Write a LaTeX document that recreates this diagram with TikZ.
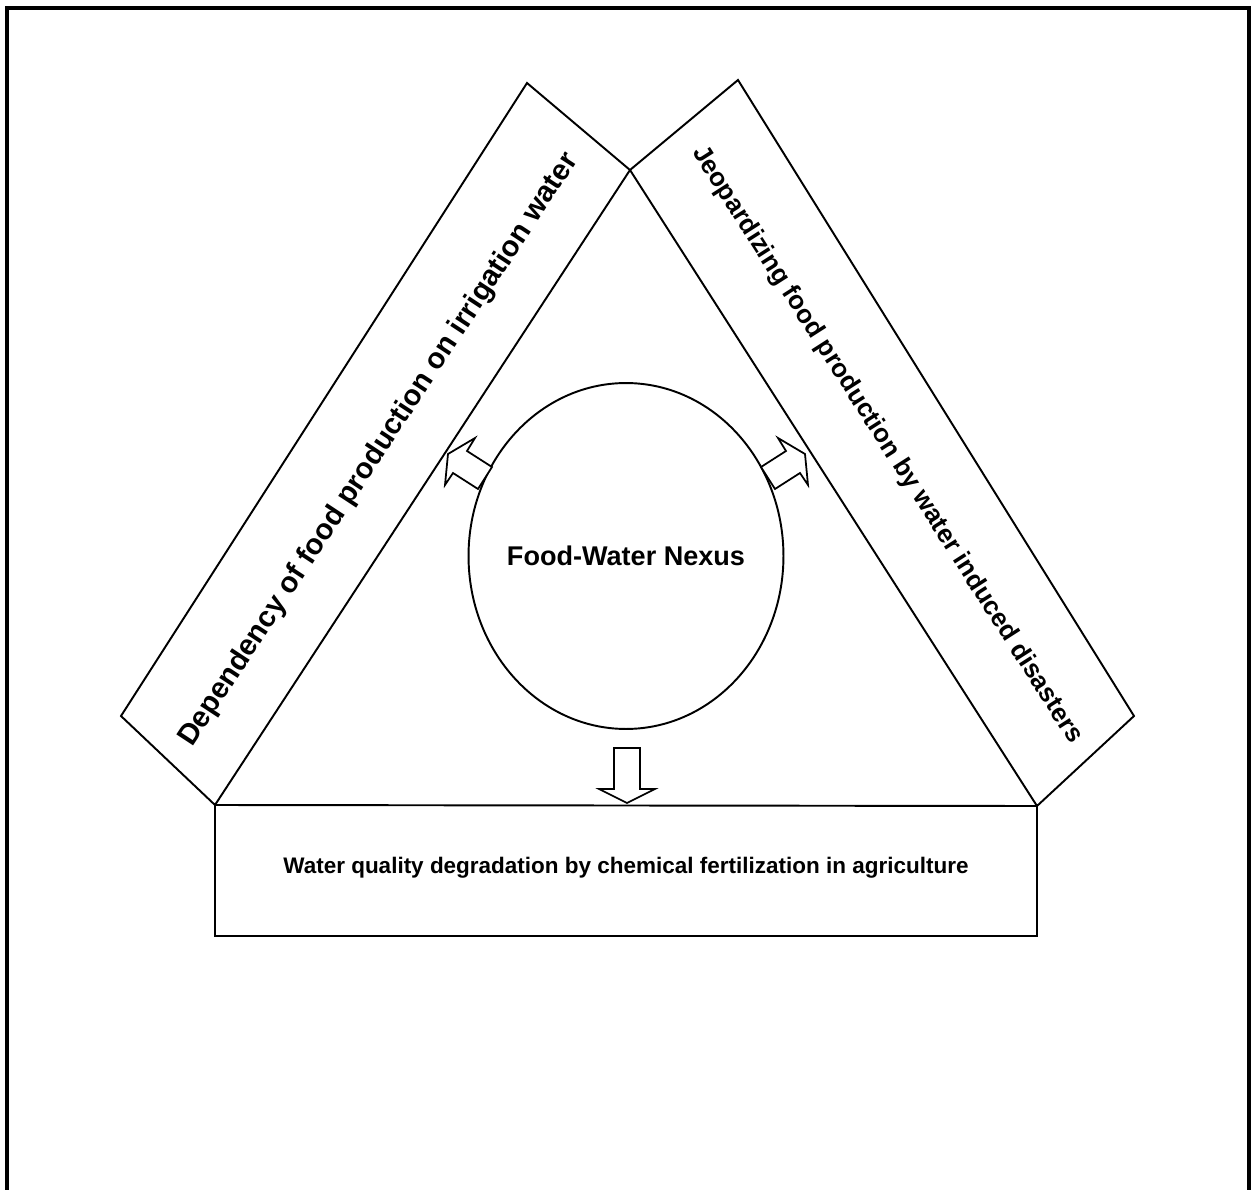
\documentclass[tikz,border=0pt]{standalone}
\usepackage{fontspec}
\setmainfont{Liberation Sans}
\usetikzlibrary{shapes.geometric}
\begin{document}
\begin{tikzpicture}[x=0.02cm,y=-0.02cm,
  edge/.style={draw=black,line width=1.1pt,line join=miter},
  frame/.style={draw=black,line width=1.8pt},
  blockarrow/.style={draw=black,line width=1pt,fill=white,line join=miter},
  sidetext/.style={font=\bfseries\fontsize{16.6}{18}\selectfont,inner sep=0pt},
  lbl/.style={font=\bfseries,inner sep=0pt}]
\useasboundingbox (0,0) rectangle (1259,1190);
% outer frame
\coordinate (f1) at (7,1190);
\coordinate (f2) at (7,8);
\coordinate (f3) at (1249,8);
\coordinate (f4) at (1249,1190);
\draw[frame] (f1) -- (f2) -- (f3) -- (f4);
% corners
\coordinate (apex) at (630,170);
\coordinate (bl) at (215,805);
\coordinate (br) at (1037,806);
\coordinate (lo) at (121,716);
\coordinate (lt) at (527,83);
\coordinate (ro) at (1134,716);
\coordinate (rt) at (738,80);
\coordinate (bbl) at (215,936);
\coordinate (bbr) at (1037,936);
% left band
\draw[edge] (bl) -- (lo) -- (lt) -- (apex) -- cycle;
% right band
\draw[edge] (apex) -- (rt) -- (ro) -- (br) -- cycle;
% bottom box
\draw[edge] (bl) -- (br) -- (bbr) -- (bbl) -- cycle;
% texts
\node[sidetext,rotate=56.7] (ltext) at (379,450) {Dependency of food production on irrigation water};
\node[sidetext,font=\bfseries\fontsize{14.7}{16}\selectfont,rotate=-57.4] (rtext) at (887,445) {Jeopardizing food production by water induced disasters};
\node[lbl,font=\bfseries\fontsize{12.8}{14}\selectfont] (btext) at (626,868) {Water quality degradation by chemical fertilization in agriculture};
% ellipse
\node[draw=black,line width=1.1pt,ellipse,minimum width=6.3cm,minimum height=6.92cm,inner sep=0pt] (nexus) at (626,556) {};
\node[lbl,font=\bfseries\fontsize{15.4}{17}\selectfont] (nexuslabel) at (nexus.center) {Food-Water Nexus};
% arrows
\draw[blockarrow] (614,748) -- (640,748) -- (640,789) -- (655,789) -- (627,803) -- (599,789) -- (614,789) -- cycle;
\draw[blockarrow] (761,467) -- (786,451) -- (778,438) -- (805,454) -- (808,485) -- (800,473) -- (775,489) -- cycle;
\draw[blockarrow] (492,467) -- (467,451) -- (475,438) -- (448,454) -- (445,485) -- (453,473) -- (478,489) -- cycle;
\end{tikzpicture}
\end{document}
